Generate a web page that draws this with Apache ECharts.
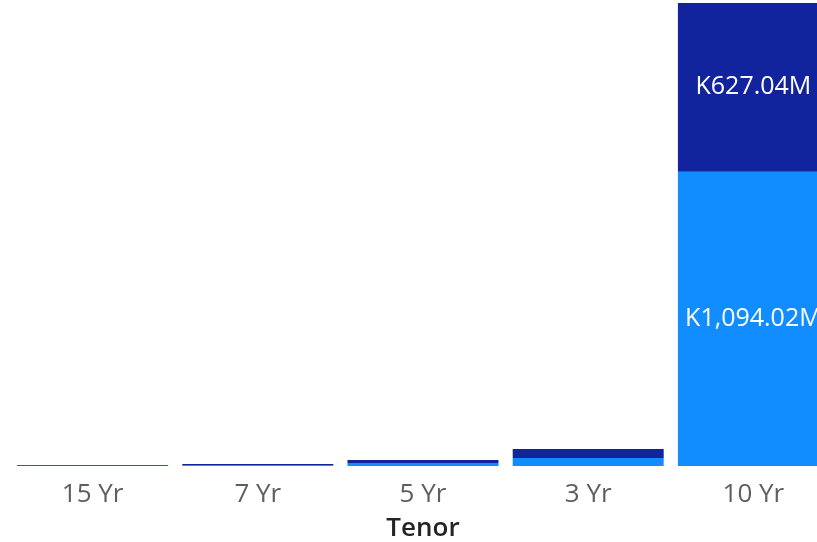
<!DOCTYPE html>
<html>
<head>
<meta charset="utf-8">
<script src="https://cdn.jsdelivr.net/npm/echarts@6/dist/echarts.min.js"></script>
<style>html,body{margin:0;padding:0;background:#fff}#c{width:817px;height:542px}</style>
</head>
<body>
<div id="c"></div>
<script>
const categories = ["15 Yr", "7 Yr", "5 Yr", "3 Yr", "10 Yr"];
const lightValues = [0.5, 3, 11, 30, 1094.02];
const darkValues = [3, 4, 11, 33, 627.04];

const chart = echarts.init(document.getElementById('c'));
const fmt = p => p.value > 100 ? 'K' + p.value.toLocaleString('en-US', {minimumFractionDigits: 2, maximumFractionDigits: 2}) + 'M' : '';
const font = '"Open Sans", "Segoe UI", sans-serif';
chart.setOption({
  animation: false,
  grid: {left: 10, top: 3, width: 826, bottom: 76, containLabel: false, outerBoundsMode: 'none'},
  xAxis: {
    type: 'category', data: categories,
    name: 'Tenor', nameLocation: 'middle', nameGap: 50,
    nameTextStyle: {fontSize: 26, fontWeight: 600, color: '#252423', fontFamily: font},
    axisLine: {show: false}, axisTick: {show: false},
    axisLabel: {fontSize: 26, color: '#605E5C', margin: 16, fontFamily: font}
  },
  yAxis: {type: 'value', show: false, min: 0, max: v => v.max, splitLine: {show: false}},
  series: [
    {type: 'bar', stack: 't', data: lightValues, barCategoryGap: '8.6%',
     itemStyle: {color: '#118DFF'},
     label: {show: true, position: 'inside', color: '#fff', fontSize: 25, fontFamily: font, formatter: fmt}},
    {type: 'bar', stack: 't', data: darkValues, barCategoryGap: '8.6%',
     itemStyle: {color: '#12239E'},
     label: {show: true, position: 'inside', color: '#fff', fontSize: 25, fontFamily: font, formatter: fmt}}
  ]
});
</script>
</body>
</html>
